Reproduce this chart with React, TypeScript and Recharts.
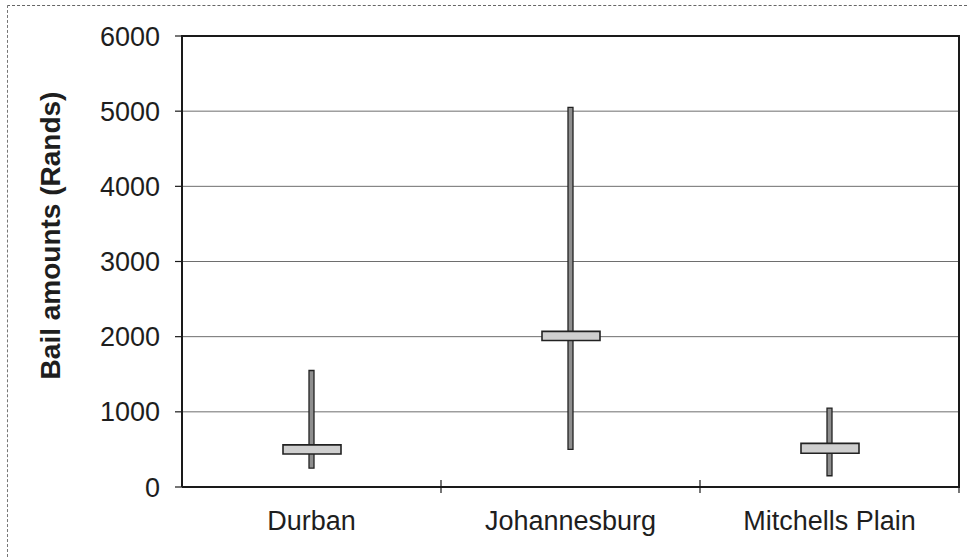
import React from 'react';
import { ComposedChart, Bar, XAxis, YAxis, CartesianGrid } from 'recharts';

const categories = ['Durban', 'Johannesburg', 'Mitchells Plain'];
const lowValues = [250, 500, 150];
const highValues = [1550, 5050, 1050];
const boxLowValues = [440, 1950, 450];
const boxHighValues = [560, 2070, 580];
const yTicks = [0, 1000, 2000, 3000, 4000, 5000, 6000];

const data = categories.map((name, i) => ({
  name,
  low: lowValues[i],
  high: highValues[i],
  boxLow: boxLowValues[i],
  boxHigh: boxHighValues[i],
}));

const W = 967;
const H = 557;
const PLOT_LEFT = 182;
const MARGIN_RIGHT = 8;
const MARGIN_TOP = 36;
const X_AXIS_H = 70;
const FONT = '"Liberation Sans", Arial, Helvetica, sans-serif';
const TEXT = '#1e1e1e';
const FRAME = '#1a1a1a';

const bandHalf = (W - PLOT_LEFT - MARGIN_RIGHT) / categories.length / 2;

const XTick = (props: any) => {
  const { x, y, payload } = props;
  return (
    <g>
      <line x1={x + bandHalf} x2={x + bandHalf} y1={y - 7} y2={y + 6} stroke={FRAME} strokeWidth={1.2} />
      <text x={x} y={y + 24} dy="0.71em" textAnchor="middle" fill={TEXT} fontSize={27} fontFamily={FONT}>
        {payload.value}
      </text>
    </g>
  );
};

const YLabel = (props: any) => {
  const vb = props.viewBox || { x: 0, y: 0, width: 0, height: 0 };
  const cx = vb.x + 60;
  const cy = vb.y + vb.height / 2 - 26;
  return (
    <text
      x={cx}
      y={cy}
      transform={`rotate(-90, ${cx}, ${cy})`}
      textAnchor="middle"
      fill={TEXT}
      fontSize={28}
      fontWeight="bold"
      fontFamily={FONT}
    >
      Bail amounts (Rands)
    </text>
  );
};

export default function App() {
  return (
    <div style={{ position: 'absolute', left: 0, top: 0, width: W, height: H, background: '#fff' }}>
      <div style={{ position: 'absolute', left: 0, top: 0 }}>
        <ComposedChart
          width={W}
          height={H}
          data={data}
          margin={{ top: MARGIN_TOP, right: MARGIN_RIGHT, left: 0, bottom: 0 }}
          barGap={0}
        >
          <CartesianGrid vertical={false} stroke="#6e6e6e" strokeWidth={1} yAxisId="left" xAxisId="main" />
          <XAxis
            xAxisId="main"
            dataKey="name"
            type="category"
            height={X_AXIS_H}
            axisLine={{ stroke: FRAME, strokeWidth: 2 }}
            tickLine={false}
            tickSize={0}
            tickMargin={0}
            tick={<XTick />}
            interval={0}
          />
          <XAxis xAxisId="top" dataKey="name" type="category" hide />
          <YAxis
            yAxisId="left"
            type="number"
            domain={[0, 6000]}
            ticks={yTicks}
            interval={0}
            width={PLOT_LEFT}
            axisLine={{ stroke: FRAME, strokeWidth: 2 }}
            tickLine={{ stroke: FRAME, strokeWidth: 1.2 }}
            tickSize={7}
            tickMargin={15}
            tick={{ fill: TEXT, fontSize: 27, fontFamily: FONT }}
            label={<YLabel />}
          />
          <Bar
            xAxisId="main"
            yAxisId="left"
            dataKey={(d: any) => [d.low, d.high]}
            barSize={5}
            fill="#8e8e8e"
            stroke="#222"
            strokeWidth={1.3}
            isAnimationActive={false}
          />
          <Bar
            xAxisId="top"
            yAxisId="left"
            dataKey={(d: any) => [d.boxLow, d.boxHigh]}
            barSize={58}
            fill="#cfcfcf"
            stroke="#222"
            strokeWidth={1.6}
            isAnimationActive={false}
          />
        </ComposedChart>
      </div>
      <div
        style={{
          position: 'absolute',
          left: PLOT_LEFT - 1,
          top: MARGIN_TOP - 1,
          width: W - MARGIN_RIGHT - PLOT_LEFT + 2,
          height: 40,
          boxSizing: 'border-box',
          borderTop: `2px solid ${FRAME}`,
          borderRight: `2px solid ${FRAME}`,
          pointerEvents: 'none',
        }}
      />
      <div
        style={{
          position: 'absolute',
          left: W - MARGIN_RIGHT - 1,
          top: MARGIN_TOP - 1,
          width: 2,
          height: H - X_AXIS_H - MARGIN_TOP + 2,
          background: FRAME,
          pointerEvents: 'none',
        }}
      />
      <div
        style={{
          position: 'absolute',
          left: 7,
          top: 5,
          width: W - 7,
          height: H - 5,
          boxSizing: 'border-box',
          borderTop: '1px dashed #666',
          borderLeft: '1px dashed #777',
          pointerEvents: 'none',
        }}
      />
    </div>
  );
}
